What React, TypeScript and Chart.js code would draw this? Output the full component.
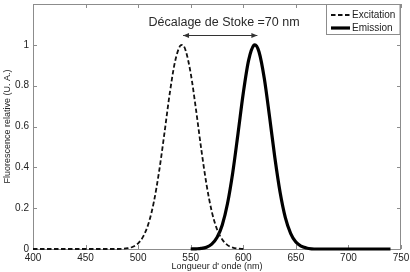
import React, { useEffect, useRef } from "react";
import { Chart, registerables } from "chart.js";

Chart.register(...registerables);

// ---- data ----
const excitationNm = [400, 420, 440, 460, 480, 490, 495, 500, 505, 510, 515, 520, 525, 530, 535, 540, 542, 545, 550, 555, 560, 565, 570, 575, 580, 585, 590, 595, 600];
const excitationVal = [0, 0, 0, 0, 0, 0.004, 0.011, 0.028, 0.063, 0.127, 0.232, 0.382, 0.567, 0.76, 0.916, 0.995, 1.0, 0.975, 0.86, 0.684, 0.49, 0.317, 0.184, 0.097, 0.046, 0.019, 0.007, 0.002, 0];

const emissionNm = [550, 555, 560, 565, 570, 575, 580, 585, 590, 595, 600, 605, 610, 611, 615, 620, 625, 630, 635, 640, 645, 650, 655, 660, 665, 670, 680, 700, 720, 740];
const emissionVal = [0, 0.001, 0.003, 0.009, 0.024, 0.056, 0.118, 0.223, 0.375, 0.566, 0.764, 0.923, 0.998, 1.0, 0.965, 0.835, 0.647, 0.448, 0.278, 0.154, 0.077, 0.034, 0.014, 0.005, 0.001, 0, 0, 0, 0, 0];

const seriesNames = ["Excitation", "Emission"];
const xTitle = "Longueur d' onde (nm)";
const yTitle = "Fluorescence relative (U. A.)";
const shiftLabel = "Décalage de Stoke =70 nm";
const shiftArrowNm = [542.7, 613.4];
const shiftArrowY = 1.047;
const shiftLabelNm = 581.7;
const xRange = [400, 750];
const yRange = [0, 1.2];

const FONT = "'Liberation Sans', Arial, Helvetica, sans-serif";

const decorPlugin = {
  id: "decor",
  beforeDatasetsDraw(chart: any) {
    const { ctx, chartArea, scales } = chart;
    const { left, right, top, bottom } = chartArea;
    const x = scales.x;
    const y = scales.y;
    ctx.save();
    ctx.strokeStyle = "#8c8c8c";
    ctx.lineWidth = 1;
    ctx.strokeRect(left + 0.5, top + 0.5, right - left - 1, bottom - top);
    ctx.beginPath();
    x.ticks.forEach((t: any) => {
      const px = Math.round(x.getPixelForValue(t.value)) + 0.5;
      ctx.moveTo(px, bottom);
      ctx.lineTo(px, bottom - 4);
      ctx.moveTo(px, top);
      ctx.lineTo(px, top + 4);
    });
    y.ticks.forEach((t: any) => {
      const py = Math.round(y.getPixelForValue(t.value)) + 0.5;
      ctx.moveTo(left, py);
      ctx.lineTo(left + 4, py);
      ctx.moveTo(right, py);
      ctx.lineTo(right - 4, py);
    });
    ctx.stroke();
    ctx.restore();
  },
  afterDraw(chart: any) {
    const { ctx, chartArea, scales } = chart;
    const { left, right, top, bottom } = chartArea;
    const x = scales.x;
    const y = scales.y;
    ctx.save();
    // axis titles
    ctx.fillStyle = "#222";
    ctx.font = `9px ${FONT}`;
    ctx.textAlign = "center";
    ctx.textBaseline = "middle";
    ctx.fillText(xTitle, (left + right) / 2, 267);
    ctx.save();
    ctx.translate(7.5, (top + bottom) / 2);
    ctx.rotate(-Math.PI / 2);
    ctx.fillText(yTitle, 0, 0);
    ctx.restore();

    // arrow + label
    const ax1 = x.getPixelForValue(shiftArrowNm[0]);
    const ax2 = x.getPixelForValue(shiftArrowNm[1]);
    const ay = Math.round(y.getPixelForValue(shiftArrowY)) + 0.5;
    ctx.strokeStyle = "#333";
    ctx.fillStyle = "#333";
    ctx.lineWidth = 1;
    ctx.beginPath();
    ctx.moveTo(ax1, ay);
    ctx.lineTo(ax2, ay);
    ctx.stroke();
    ctx.beginPath();
    ctx.moveTo(ax1, ay);
    ctx.lineTo(ax1 + 6, ay - 2.5);
    ctx.lineTo(ax1 + 6, ay + 2.5);
    ctx.closePath();
    ctx.moveTo(ax2, ay);
    ctx.lineTo(ax2 - 6, ay - 2.5);
    ctx.lineTo(ax2 - 6, ay + 2.5);
    ctx.closePath();
    ctx.fill();
    ctx.font = `12.5px ${FONT}`;
    ctx.textAlign = "center";
    ctx.textBaseline = "alphabetic";
    ctx.fillStyle = "#2a2a2a";
    ctx.fillText(shiftLabel, x.getPixelForValue(shiftLabelNm), 25.5);

    // legend
    const bx = 326.5;
    const by = top + 0.5;
    const bw = right - 1 - bx;
    const bh = 30;
    ctx.fillStyle = "#fff";
    ctx.fillRect(bx, by, bw, bh);
    ctx.strokeStyle = "#8c8c8c";
    ctx.lineWidth = 1;
    ctx.strokeRect(bx, by, bw, bh);
    const rows = [15, 28];
    chart.data.datasets.forEach((ds: any, i: number) => {
      const ry = rows[i];
      ctx.save();
      ctx.strokeStyle = ds.borderColor;
      ctx.lineWidth = ds.borderWidth;
      ctx.setLineDash(ds.borderDash || []);
      ctx.beginPath();
      ctx.moveTo(331, ry);
      ctx.lineTo(350, ry);
      ctx.stroke();
      ctx.restore();
      ctx.fillStyle = "#222";
      ctx.font = `10px ${FONT}`;
      ctx.textAlign = "left";
      ctx.textBaseline = "middle";
      ctx.fillText(ds.label, 352, ry + 0.5);
    });
    ctx.restore();
  },
};

export default function App() {
  const ref = useRef<HTMLCanvasElement | null>(null);
  useEffect(() => {
    if (!ref.current) return;
    const chart = new Chart(ref.current, {
      type: "line",
      data: {
        datasets: [
          {
            label: seriesNames[0],
            data: excitationNm.map((v, i) => ({ x: v, y: excitationVal[i] })),
            borderColor: "#111",
            borderWidth: 1.8,
            borderDash: [4.5, 2.5],
            pointRadius: 0,
            fill: false,
            cubicInterpolationMode: "monotone",
            clip: 4,
          },
          {
            label: seriesNames[1],
            data: emissionNm.map((v, i) => ({ x: v, y: emissionVal[i] })),
            borderColor: "#000",
            borderWidth: 3.2,
            pointRadius: 0,
            fill: false,
            cubicInterpolationMode: "monotone",
            clip: 4,
          },
        ],
      },
      options: {
        responsive: false,
        animation: false,
        layout: { padding: { top: 4, right: 9, left: 0, bottom: 0 } },
        plugins: {
          legend: { display: false },
          tooltip: { enabled: false },
          title: { display: false },
        },
        scales: {
          x: {
            type: "linear",
            min: xRange[0],
            max: xRange[1],
            grid: { display: false, drawTicks: false },
            border: { display: false },
            ticks: {
              stepSize: 50,
              padding: 3,
              color: "#222",
              font: { family: FONT, size: 10 },
              maxRotation: 0,
              autoSkip: false,
            },
            afterFit: (s: any) => {
              s.height = 23;
              s.paddingLeft = 0;
              s.paddingRight = 0;
            },
          },
          y: {
            type: "linear",
            min: yRange[0],
            max: yRange[1],
            grid: { display: false, drawTicks: false },
            border: { display: false },
            ticks: {
              stepSize: 0.2,
              padding: 4,
              color: "#222",
              font: { family: FONT, size: 10, lineHeight: 0.6 },
              callback: (v: any) => (v > 1.1 ? "" : String(Math.round(v * 10) / 10)),
            },
            afterFit: (s: any) => {
              s.width = 33;
              s.paddingTop = 0;
              s.paddingBottom = 0;
            },
          },
        },
      },
      plugins: [decorPlugin],
    });
    return () => chart.destroy();
  }, []);
  return (
    <div style={{ position: "fixed", left: 0, top: 0, width: 410, height: 272, background: "#fff" }}>
      <canvas ref={ref} width={410} height={272} style={{ display: "block", width: 410, height: 272 }} />
    </div>
  );
}
